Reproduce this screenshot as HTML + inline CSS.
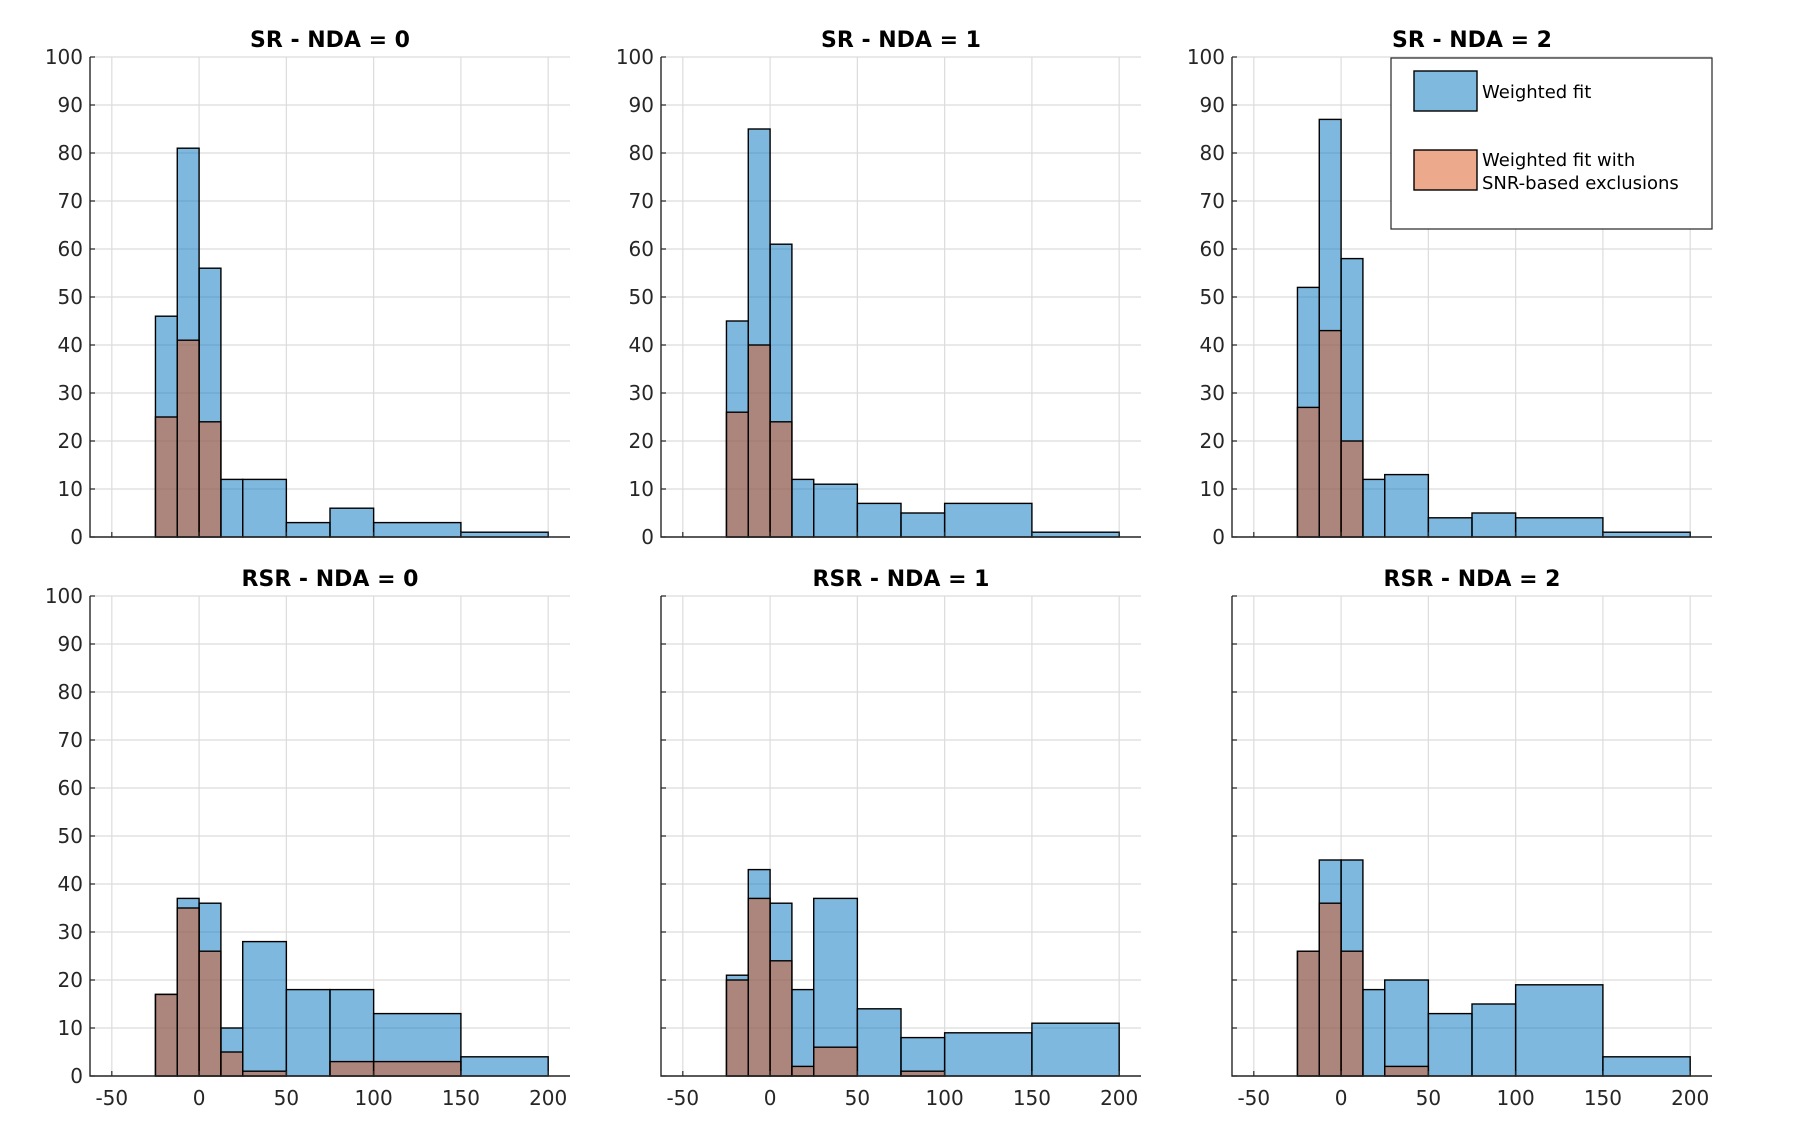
<!DOCTYPE html>
<html><head><meta charset="utf-8"><style>
html,body{margin:0;padding:0;background:#fff;}
svg{display:block;font-family:"DejaVu Sans","Liberation Sans",sans-serif;}
</style></head><body>
<svg id="chart" width="1802" height="1133" viewBox="0 0 1802 1133" xmlns="http://www.w3.org/2000/svg"></svg>
<script>
const binEdges = [-50,-25,-12.5,0,12.5,25,50,75,100,150,200];
const xTicks = [-50,0,50,100,150,200];
const yTicks = [0,10,20,30,40,50,60,70,80,90,100];
const panelTitles = ["SR - NDA = 0","SR - NDA = 1","SR - NDA = 2","RSR - NDA = 0","RSR - NDA = 1","RSR - NDA = 2"];
const weightedSR0 = [0,46,81,56,12,12,3,6,3,1];
const excludedSR0 = [0,25,41,24,0,0,0,0,0,0];
const weightedSR1 = [0,45,85,61,12,11,7,5,7,1];
const excludedSR1 = [0,26,40,24,0,0,0,0,0,0];
const weightedSR2 = [0,52,87,58,12,13,4,5,4,1];
const excludedSR2 = [0,27,43,20,0,0,0,0,0,0];
const weightedRSR0 = [0,17,37,36,10,28,18,18,13,4];
const excludedRSR0 = [0,17,35,26,5,1,0,3,3,0];
const weightedRSR1 = [0,21,43,36,18,37,14,8,9,11];
const excludedRSR1 = [0,20,37,24,2,6,0,1,0,0];
const weightedRSR2 = [0,26,45,45,18,20,13,15,19,4];
const excludedRSR2 = [0,26,36,26,0,2,0,0,0,0];

const weightedAll=[weightedSR0,weightedSR1,weightedSR2,weightedRSR0,weightedRSR1,weightedRSR2];
const excludedAll=[excludedSR0,excludedSR1,excludedSR2,excludedRSR0,excludedRSR1,excludedRSR2];
const NS="http://www.w3.org/2000/svg";
const svg=document.getElementById('chart');
function mk(tag,attrs,parent){const e=document.createElementNS(NS,tag);for(const k in attrs)e.setAttribute(k,attrs[k]);(parent||svg).appendChild(e);return e;}
const lefts=[90,661,1232], tops=[57,596], W=480, H=480, XMIN=-62.5, XMAX=212.5, YMAX=100;
for(let p=0;p<6;p++){
  const L=lefts[p%3], T=tops[Math.floor(p/3)], B=T+H, row=Math.floor(p/3), col=p%3;
  const xs=v=>L+(v-XMIN)/(XMAX-XMIN)*W;
  const ys=v=>B-v/YMAX*H;
  const g=mk('g',{});
  
  
  for(const t of yTicks){const l=mk('line',{x1:L,x2:L+W,y1:ys(t),y2:ys(t),stroke:'#dcdcdc','stroke-width':1.2},g);}
  for(const t of xTicks){const l=mk('line',{x1:xs(t),x2:xs(t),y1:T,y2:B,stroke:'#dcdcdc','stroke-width':1.2},g);}
  const series=[[weightedAll[p],'#0072bd','weighted-bar'],[excludedAll[p],'#d95319','excluded-bar']];
  for(const [vals,color,name] of series){
    for(let i=0;i<vals.length;i++){
      if(name==='excluded-bar' && vals[i]===0) continue;
      const x0=xs(binEdges[i]),x1=xs(binEdges[i+1]);
      const r=mk('rect',{x:x0,y:ys(vals[i]),width:x1-x0,height:B-ys(vals[i]),fill:color,'fill-opacity':0.5,stroke:'#000','stroke-width':1.4},g);
      
      
    }
  }
  const ax=mk('path',{d:`M${L} ${T}V${B}H${L+W}`,fill:'none',stroke:'#262626','stroke-width':1.4},g);
  
  for(const t of yTicks){const l=mk('line',{x1:L,x2:L+5,y1:ys(t),y2:ys(t),stroke:'#262626','stroke-width':1.2},g);}
  for(const t of xTicks){const l=mk('line',{x1:xs(t),x2:xs(t),y1:B,y2:B-5,stroke:'#262626','stroke-width':1.2},g);}
  if(col===0 || row===0){for(const t of yTicks){const tx=mk('text',{x:L-7,y:ys(t)+7,'text-anchor':'end','font-size':20,fill:'#262626'},g);tx.textContent=t;}}
  if(row===1){for(const t of xTicks){const tx=mk('text',{x:xs(t),y:B+29,'text-anchor':'middle','font-size':20,fill:'#262626'},g);tx.textContent=t;}}
  const ti=mk('text',{x:L+W/2,y:T-10,'text-anchor':'middle','font-size':22,'font-weight':'bold',fill:'#000'},g);
  ti.textContent=panelTitles[p];
  
  
}
const lg=mk('g',{});


const lb=mk('rect',{x:1391,y:58,width:321,height:171,fill:'#fff',stroke:'#262626','stroke-width':1.2},lg);

const s1=mk('rect',{x:1414,y:71,width:63,height:40,fill:'#80b9de',stroke:'#000','stroke-width':1.4},lg);

const s2=mk('rect',{x:1414,y:150,width:63,height:40,fill:'#eca98b',stroke:'#000','stroke-width':1.4},lg);

const t1=mk('text',{x:1482,y:98,'font-size':18,fill:'#000'},lg);t1.textContent='Weighted fit';

const t2=mk('text',{x:1482,y:166,'font-size':18,fill:'#000'},lg);t2.textContent='Weighted fit with';

const t3=mk('text',{x:1482,y:189,'font-size':18,fill:'#000'},lg);t3.textContent='SNR-based exclusions';

</script>
</body></html>
